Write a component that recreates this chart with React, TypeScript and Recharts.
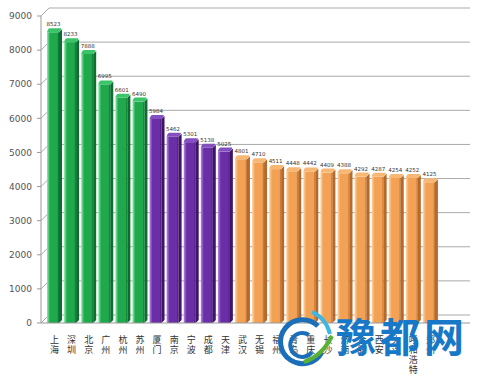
import { BarChart, Bar, XAxis, YAxis, CartesianGrid, LabelList } from 'recharts';

const cities = [
  '上海', '深圳', '北京', '广州', '杭州', '苏州',
  '厦门', '南京', '宁波', '成都', '天津',
  '武汉', '无锡', '福州', '青岛', '重庆', '长沙', '济南', '合肥', '西安', '大连', '呼和浩特', '郑州',
];
const salaries = [
  8523, 8233, 7888, 6995, 6601, 6490,
  5984, 5462, 5301, 5138, 5025,
  4801, 4710, 4511, 4448, 4442, 4409, 4388, 4292, 4287, 4254, 4252, 4125,
];
const yTicks = [0, 1000, 2000, 3000, 4000, 5000, 6000, 7000, 8000, 9000];

const data = cities.map((city, i) => ({ city, value: salaries[i] }));

// tier colours: light edge, face, dark side, top cap
const palettes = [
  { light: '#8ef0ad', face: '#1fa84c', dark: '#0c6e30', top: '#3cc468' },
  { light: '#b98be6', face: '#6a2ea6', dark: '#3f1468', top: '#8450bf' },
  { light: '#ffd7a6', face: '#f3a154', dark: '#b5692a', top: '#f8b875' },
];
const tierOf = (i: number) => (i < 6 ? 0 : i < 11 ? 1 : 2);

const Bar3D = (props: any) => {
  const { x, y, width, height, index } = props;
  const p = palettes[tierOf(index)];
  const d = 3;
  const fw = width - d;
  return (
    <g>
      <path
        d={`M${x + fw},${y} L${x + width},${y - d} L${x + width},${y + height - d} L${x + fw},${y + height} Z`}
        fill={p.dark}
      />
      <rect x={x} y={y} width={fw} height={height} fill={`url(#face${tierOf(index)})`} />
      <path
        d={`M${x},${y} Q${x + 1},${y - d - 1} ${x + d},${y - d - 1} L${x + width - 1},${y - d - 1} Q${x + width},${y - d} ${x + fw},${y} Z`}
        fill={p.top}
      />
    </g>
  );
};

const GridLine = (p: any) => (
  <path
    key={p.key}
    d={`M${p.x1},${p.y1} L${p.x1 + 8},${p.y1 - 8} L${p.x2},${p.y2 - 8}`}
    stroke="#a9a9a9"
    strokeWidth={1}
    fill="none"
  />
);

const CityTick = (props: any) => {
  const { x, y, payload } = props;
  const chars = String(payload.value).split('');
  return (
    <text x={x} y={y + 12} textAnchor="middle" fontSize={9} fill="#333" fontFamily="Noto Sans CJK SC">
      {chars.map((c, i) => (
        <tspan key={i} x={x} dy={i === 0 ? 0 : 10}>
          {c}
        </tspan>
      ))}
    </text>
  );
};

const ValueLabel = (props: any) => {
  const { x, y, width, value } = props;
  return (
    <text x={x + width / 2 - 1} y={y - 6} textAnchor="middle" fontSize={5.5} fill="#333" fontFamily="DejaVu Sans">
      {value}
    </text>
  );
};

export default function App() {
  return (
    <div style={{ position: 'fixed', top: 0, left: 0, width: 483, height: 378, background: '#fff' }}>
      <BarChart width={483} height={378} data={data} margin={{ top: 16, right: 13, bottom: 0, left: 0 }}>
        <defs>
          {palettes.map((p, i) => (
            <linearGradient key={i} id={`face${i}`} x1="0" y1="0" x2="1" y2="0">
              <stop offset="0%" stopColor={p.light} />
              <stop offset="25%" stopColor={p.face} />
              <stop offset="85%" stopColor={p.face} />
              <stop offset="100%" stopColor={p.dark} />
            </linearGradient>
          ))}
        </defs>
        <CartesianGrid vertical={false} horizontal={GridLine} />
        <XAxis
          dataKey="city"
          interval={0}
          height={55}
          tick={<CityTick />}
          tickLine={false}
          axisLine={{ stroke: '#999' }}
          padding={{ left: 5, right: 31 }}
        />
        <YAxis
          width={41}
          domain={[0, 9000]}
          ticks={yTicks}
          tick={{ fontSize: 9, fill: '#555', fontFamily: 'DejaVu Sans', dx: -3 }}
          tickLine={{ stroke: '#999' }}
          axisLine={{ stroke: '#999' }}
          tickSize={4}
        />
        <Bar dataKey="value" barSize={15} shape={<Bar3D />} isAnimationActive={false}>
          <LabelList dataKey="value" content={<ValueLabel />} />
        </Bar>
      </BarChart>
      <svg
        width={483}
        height={378}
        style={{ position: 'absolute', top: 0, left: 0, pointerEvents: 'none' }}
      >
        <path d="M318,326 A22,22 0 1 0 322,352" stroke="#1a6fb8" strokeWidth={5} fill="none" />
        <path d="M309,335 A12,12 0 1 0 312,352" stroke="#1a6fb8" strokeWidth={4} fill="none" />
        <path d="M312,312 Q326,318 330,334" stroke="#3db6e3" strokeWidth={4} fill="none" />
        <path d="M304,362 Q322,356 332,336" stroke="#5ab032" strokeWidth={4} fill="none" />
        <text
          x={336}
          y={352}
          fontSize={40}
          fontWeight="bold"
          fill="#1778c8"
          fontFamily="Noto Sans CJK SC"
          letterSpacing={4}
        >
          豫都网
        </text>
      </svg>
    </div>
  );
}
